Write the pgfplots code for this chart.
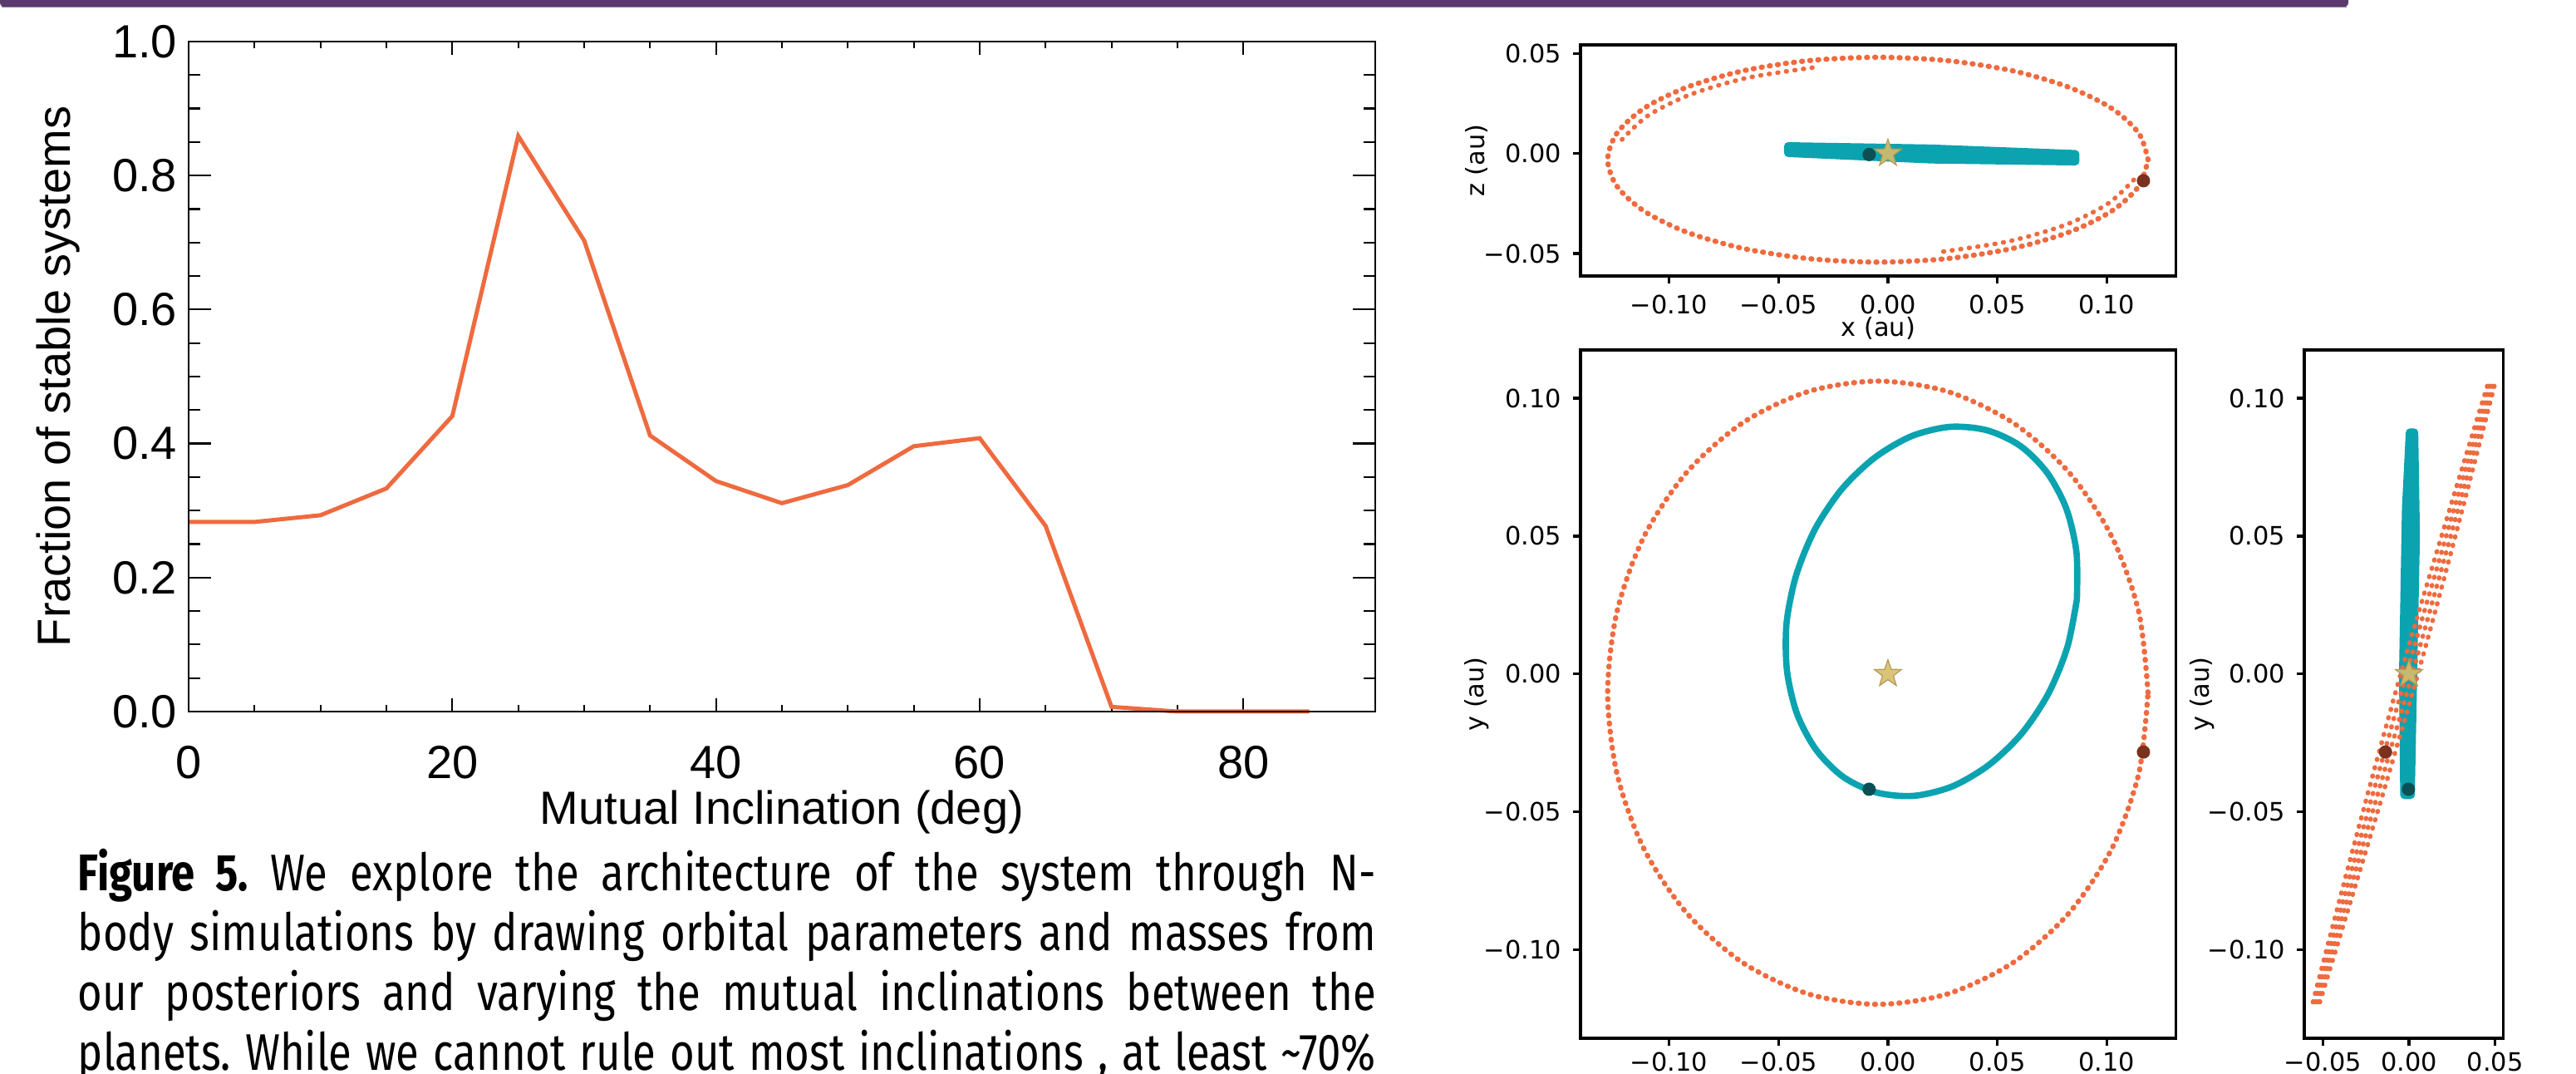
\documentclass[border=0pt]{standalone}
\usepackage{pgfplots}
\pgfplotsset{compat=1.18}
\usepackage{fontspec}
\setmainfont{Liberation Sans}
\newfontfamily\dejavu{DejaVu Sans}
\newfontfamily\capfont[FakeStretch=0.82]{Fira Sans}
\definecolor{orng}{HTML}{EE6A3F}
\definecolor{teal2}{HTML}{0BA3B0}
\definecolor{brn}{HTML}{7A321E}
\definecolor{dteal}{HTML}{0C4F55}
\definecolor{starf}{HTML}{D7BD6C}
\definecolor{stard}{HTML}{B39A55}
\definecolor{purp}{HTML}{5B3A6D}
\definecolor{purpl}{HTML}{8F78A2}
\pgfdeclareplotmark{fstar}{%
  \pgfpathmoveto{\pgfpointpolar{90}{\pgfplotmarksize}}%
  \pgfpathlineto{\pgfpointpolar{126}{0.4\pgfplotmarksize}}%
  \pgfpathlineto{\pgfpointpolar{162}{\pgfplotmarksize}}%
  \pgfpathlineto{\pgfpointpolar{198}{0.4\pgfplotmarksize}}%
  \pgfpathlineto{\pgfpointpolar{234}{\pgfplotmarksize}}%
  \pgfpathlineto{\pgfpointpolar{270}{0.4\pgfplotmarksize}}%
  \pgfpathlineto{\pgfpointpolar{306}{\pgfplotmarksize}}%
  \pgfpathlineto{\pgfpointpolar{342}{0.4\pgfplotmarksize}}%
  \pgfpathlineto{\pgfpointpolar{18}{\pgfplotmarksize}}%
  \pgfpathlineto{\pgfpointpolar{54}{0.4\pgfplotmarksize}}%
  \pgfpathclose\pgfusepathqfillstroke}
\newcommand\lfont{\fontsize{14pt}{16pt}\selectfont}
\newcommand\mfont{\dejavu\fontsize{7.6pt}{9pt}\selectfont}
\pgfplotsset{
  idl/.style={scale only axis, at={(56.75pt,109pt)}, anchor=south west,
    width=357pt, height=201.5pt, xmin=0, xmax=90, ymin=0, ymax=1,
    tick align=inside, axis line style={line width=0.55pt},
    tick style={black, line width=0.55pt}, clip=false},
  mpl/.style={scale only axis, anchor=south west, tick align=outside, tick pos=left,
    scaled x ticks=false, scaled y ticks=false,
    axis line style={line width=0.85pt}, tick style={black, line width=0.85pt},
    major tick length=2.2pt, tick label style={font=\mfont}, label style={font=\mfont}},
  orb/.style={orng, line width=1.6pt, dash pattern=on 0.25pt off 2.2pt, line cap=round, smooth},
  orbthin/.style={orng, line width=1.4pt, dash pattern=on 0.2pt off 2.4pt, line cap=round, smooth},
  pb/.style={only marks, mark=*, mark size=1.8pt, mark options={fill=brn, draw=brn}},
  pt/.style={only marks, mark=*, mark size=1.8pt, mark options={fill=dteal, draw=dteal}},
  ps/.style={only marks, mark=fstar, mark size=4.3pt, mark options={fill=starf, draw=stard, line width=0.3pt, fill opacity=0.9}},
}
\begin{document}
\begin{tikzpicture}
\useasboundingbox (0,0) rectangle (775pt,323pt);
\clip (0,0) rectangle (775pt,323pt);
\fill[purp, rounded corners=1.5pt] (0pt,320.8pt) rectangle (706.5pt,330pt);
\draw[purpl, line width=0.3pt] (0.5pt,320.8pt) -- (706pt,320.8pt);

% ---------- left plot: x ticks + data
\begin{axis}[idl,
  xtick={0,20,40,60,80}, xticklabels={0,20,40,60,80}, minor x tick num=3,
  ytick=\empty, major tick length=4pt, minor tick length=2pt,
  xticklabel style={font=\lfont, anchor=base, yshift=-20.25pt},
  xlabel={Mutual Inclination (deg)},
  xlabel style={font=\lfont, at={(rel axis cs:0.5,-0.15)}, anchor=center}]
\addplot[color=orng, line width=1.25pt] coordinates {
(0,0.283) (5,0.283) (10,0.293) (15,0.333) (20,0.441) (25,0.859) (30,0.703)
(35,0.412) (40,0.344) (45,0.311) (50,0.338) (55,0.396) (60,0.408) (65,0.277)
(70,0.007) (75,0.0) (80,0.0) (85,0.0)};
\end{axis}
% ---------- left plot: y ticks
\begin{axis}[idl,
  xtick=\empty, ytick={0,0.2,0.4,0.6,0.8,1.0},
  yticklabels={0.0,0.2,0.4,0.6,0.8,1.0}, minor y tick num=3,
  major tick length=6.75pt, minor tick length=3.4pt,
  yticklabel style={font=\lfont},
  ylabel={Fraction of stable systems},
  ylabel style={font=\lfont, at={(rel axis cs:-0.11,0.5)}, anchor=center}]
\end{axis}

% ---------- top right: x-z
\begin{axis}[mpl, at={(475.5pt,240pt)}, width=179.1pt, height=69.5pt,
  xmin=-0.1404, xmax=0.1315, ymin=-0.0612, ymax=0.0543,
  xtick={-0.1,-0.05,0,0.05,0.1}, xticklabels={−0.10,−0.05,0.00,0.05,0.10},
  ytick={-0.05,0,0.05}, yticklabels={−0.05,0.00,0.05},
  xlabel={x (au)}, ylabel={z (au)},
  xlabel style={at={(rel axis cs:0.5,-0.228)}, anchor=center},
  ylabel style={at={(rel axis cs:-0.174,0.5)}, anchor=center}]
\addplot[orb] coordinates {
(0.1188,-0.0031) (0.1146,0.0101) (0.1023,0.0225) (0.0827,0.0331) (0.0571,0.0413)
(0.0273,0.0464) (-0.0046,0.0481) (-0.0365,0.0464) (-0.0663,0.0413) (-0.0919,0.0331)
(-0.1115,0.0225) (-0.1238,0.0101) (-0.1280,-0.0031) (-0.1238,-0.0163) (-0.1115,-0.0287)
(-0.0919,-0.0393) (-0.0663,-0.0474) (-0.0365,-0.0525) (-0.0046,-0.0543) (0.0273,-0.0525)
(0.0571,-0.0474) (0.0827,-0.0393) (0.1023,-0.0287) (0.1146,-0.0163) (0.1188,-0.0031)};
\addplot[orbthin] coordinates {
(-0.0345,0.0429) (-0.0643,0.0378) (-0.0899,0.0296) (-0.1095,0.0190) (-0.1218,0.0066)};
\addplot[orbthin] coordinates {
(0.0253,-0.0490) (0.0551,-0.0439) (0.0807,-0.0358) (0.1003,-0.0252) (0.1126,-0.0128)};
\addplot[fill=teal2, draw=teal2, line width=0.6pt, rounded corners=1pt] coordinates {
(-0.047,0.0052) (0.02,0.0040) (0.087,0.0012) (0.087,-0.0055) (0.02,-0.0045) (-0.047,-0.0012)} -- cycle;
\addplot[pb] coordinates {(0.1167,-0.0136)};
\addplot[pt] coordinates {(-0.0086,-0.0005)};
\addplot[ps] coordinates {(0,0)};
\end{axis}

% ---------- middle: x-y
\begin{axis}[mpl, at={(475.5pt,10.75pt)}, width=179.1pt, height=207pt,
  xmin=-0.1404, xmax=0.1315, ymin=-0.1321, ymax=0.1175,
  xtick={-0.1,-0.05,0,0.05,0.1}, xticklabels={−0.10,−0.05,0.00,0.05,0.10},
  ytick={-0.1,-0.05,0,0.05,0.1}, yticklabels={−0.10,−0.05,0.00,0.05,0.10},
  xticklabel style={yshift=1.5pt},
  ylabel={y (au)},
  ylabel style={at={(rel axis cs:-0.174,0.5)}, anchor=center}]
\addplot[orb] coordinates {
(0.1188,-0.0068) (0.1146,0.0224) (0.1023,0.0497) (0.0827,0.0731) (0.0571,0.0911)
(0.0273,0.1024) (-0.0046,0.1062) (-0.0365,0.1024) (-0.0663,0.0911) (-0.0919,0.0731)
(-0.1115,0.0497) (-0.1238,0.0224) (-0.1280,-0.0068) (-0.1238,-0.0360) (-0.1115,-0.0633)
(-0.0919,-0.0867) (-0.0663,-0.1047) (-0.0365,-0.1160) (-0.0046,-0.1198) (0.0273,-0.1160)
(0.0571,-0.1047) (0.0827,-0.0867) (0.1023,-0.0633) (0.1146,-0.0360) (0.1188,-0.0068)};
\addplot[teal2, line width=1.9pt, smooth] coordinates {
(0.0863,0.0270) (0.0861,0.0442) (0.0815,0.0599) (0.0727,0.0730) (0.0603,0.0828)
(0.0451,0.0884) (0.0282,0.0896) (0.0107,0.0862) (-0.0061,0.0784) (-0.0211,0.0670)
(-0.0333,0.0525) (-0.0419,0.0358) (-0.0463,0.0184) (-0.0461,0.0012) (-0.0415,-0.0145)
(-0.0327,-0.0276) (-0.0203,-0.0374) (-0.0051,-0.0430) (0.0118,-0.0442) (0.0293,-0.0408)
(0.0461,-0.0330) (0.0611,-0.0216) (0.0733,-0.0071) (0.0819,0.0096) (0.0863,0.0270)};
\addplot[pb] coordinates {(0.1167,-0.0283)};
\addplot[pt] coordinates {(-0.0086,-0.0418)};
\addplot[ps] coordinates {(0,0)};
\end{axis}

% ---------- right: z-y
\begin{axis}[mpl, at={(693.25pt,10.75pt)}, width=59.9pt, height=207pt,
  xmin=-0.0607, xmax=0.0548, ymin=-0.1321, ymax=0.1175,
  xtick={-0.05,0,0.05}, xticklabels={−0.05,0.00,0.05},
  ytick={-0.1,-0.05,0,0.05,0.1}, yticklabels={−0.10,−0.05,0.00,0.05,0.10},
  xticklabel style={yshift=1.5pt},
  ylabel={y (au)},
  ylabel style={at={(rel axis cs:-0.513,0.5)}, anchor=center}]
\addplot[fill=teal2, draw=teal2, line width=0.6pt, rounded corners=1pt] coordinates {
(-0.0045,-0.045) (-0.0052,0.0) (-0.0035,0.06) (-0.0012,0.0887) (0.0048,0.0887)
(0.0058,0.05) (0.0042,0.0) (0.0028,-0.045)} -- cycle;
\addplot[orbthin] coordinates {
(-0.0557,-0.119) (-0.0310,-0.06) (-0.0048,0) (0.0189,0.05) (0.0462,0.106)};
\addplot[orbthin] coordinates {
(-0.0544,-0.119) (-0.0283,-0.06) (-0.0015,0) (0.0216,0.05) (0.0475,0.106)};
\addplot[orbthin] coordinates {
(-0.0530,-0.119) (-0.0257,-0.06) (0.0019,0) (0.0242,0.05) (0.0489,0.106)};
\addplot[orbthin] coordinates {
(-0.0517,-0.119) (-0.0230,-0.06) (0.0052,0) (0.0269,0.05) (0.0502,0.106)};
\addplot[pb] coordinates {(-0.0136,-0.0283)};
\addplot[pt] coordinates {(-0.0003,-0.0418)};
\addplot[ps] coordinates {(0,0)};
\end{axis}

% ---------- caption
\node[anchor=base west, inner sep=0pt, text width=390.5pt, align=justify,
  font=\capfont\fontsize{15.5pt}{18pt}\selectfont] at (23.25pt,55pt)
{\frenchspacing
\textbf{Figure 5.} We explore the architecture of the system through N-\linebreak
body simulations by drawing orbital parameters and masses from\linebreak
our posteriors and varying the mutual inclinations between the\linebreak
planets. While we cannot rule out most inclinations , at least \textasciitilde70\%\linebreak\mbox{}};
\end{tikzpicture}
\end{document}
